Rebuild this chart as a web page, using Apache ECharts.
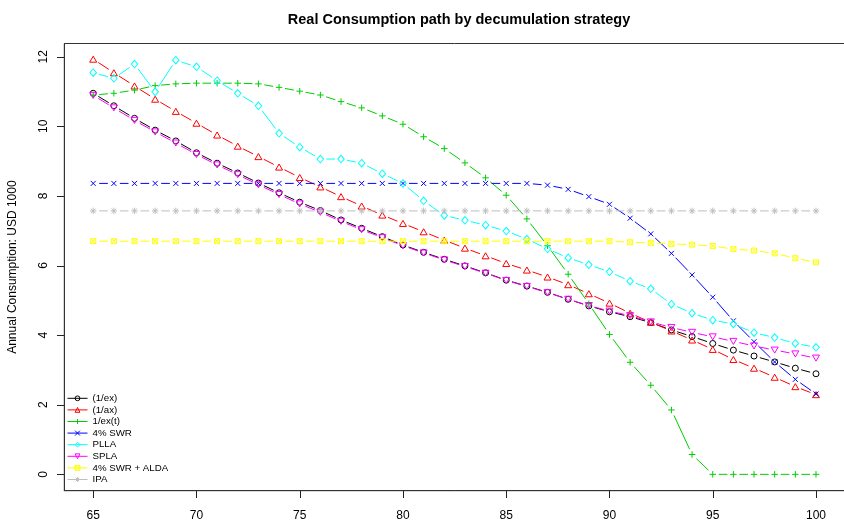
<!DOCTYPE html>
<html>
<head>
<meta charset="utf-8">
<script src="https://cdn.jsdelivr.net/npm/echarts@6/dist/echarts.min.js"></script>
<style>html,body{margin:0;padding:0;background:#fff}#c{width:844px;height:520px}</style>
</head>
<body>
<div id="c"></div>
<script>
// ---- data ----
const ages = [65,66,67,68,69,70,71,72,73,74,75,76,77,78,79,80,81,82,83,84,85,86,87,88,89,90,91,92,93,94,95,96,97,98,99,100];
const seriesNames = ['(1/ex)','(1/ax)','1/ex(t)','4% SWR','PLLA','SPLA','4% SWR + ALDA','IPA'];
const ex   = [10.95,10.59,10.23,9.89,9.58,9.24,8.94,8.66,8.37,8.09,7.82,7.58,7.31,7.07,6.83,6.59,6.38,6.18,5.99,5.79,5.58,5.41,5.23,5.03,4.84,4.67,4.53,4.36,4.15,3.96,3.76,3.57,3.40,3.23,3.05,2.89];
const ax   = [11.93,11.54,11.16,10.78,10.43,10.09,9.75,9.43,9.13,8.83,8.53,8.26,7.98,7.71,7.45,7.21,6.97,6.73,6.50,6.28,6.06,5.87,5.67,5.45,5.19,4.92,4.63,4.37,4.12,3.86,3.59,3.30,3.05,2.79,2.52,2.29];
const ext  = [10.90,10.95,11.04,11.17,11.22,11.24,11.24,11.24,11.22,11.12,11.01,10.90,10.71,10.53,10.30,10.06,9.70,9.36,8.95,8.52,8.02,7.34,6.57,5.75,4.90,4.02,3.22,2.56,1.85,0.57,0,0,0,0,0,0];
const swr  = [8.36,8.36,8.36,8.36,8.36,8.36,8.36,8.36,8.36,8.36,8.36,8.36,8.36,8.36,8.36,8.36,8.36,8.36,8.36,8.36,8.36,8.36,8.31,8.19,7.98,7.76,7.36,6.91,6.35,5.73,5.09,4.41,3.81,3.23,2.73,2.31];
const plla = [11.54,11.38,11.79,10.99,11.90,11.71,11.31,10.95,10.59,9.80,9.40,9.06,9.06,8.94,8.64,8.36,7.86,7.44,7.30,7.16,6.99,6.76,6.48,6.22,6.02,5.82,5.55,5.33,4.89,4.63,4.43,4.32,4.07,3.93,3.76,3.65];
const spla = [10.89,10.53,10.17,9.84,9.52,9.19,8.89,8.61,8.32,8.04,7.77,7.53,7.27,7.03,6.80,6.57,6.36,6.16,5.97,5.78,5.57,5.40,5.22,5.03,4.85,4.69,4.56,4.38,4.22,4.08,3.95,3.82,3.69,3.57,3.46,3.34];
const alda = [6.70,6.70,6.70,6.70,6.70,6.70,6.70,6.70,6.70,6.70,6.70,6.70,6.70,6.70,6.70,6.70,6.70,6.70,6.70,6.70,6.70,6.70,6.70,6.70,6.70,6.70,6.67,6.65,6.62,6.60,6.56,6.47,6.43,6.35,6.21,6.09];
const ipa  = [7.57,7.57,7.57,7.57,7.57,7.57,7.57,7.57,7.57,7.57,7.57,7.57,7.57,7.57,7.57,7.57,7.57,7.57,7.57,7.57,7.57,7.57,7.57,7.57,7.57,7.57,7.57,7.57,7.57,7.57,7.57,7.57,7.57,7.57,7.57,7.57];
const xTicks = [65,70,75,80,85,90,95,100];
const yTicks = [0,2,4,6,8,10,12];

// ---- styles ----
const valueSets = [ex, ax, ext, swr, plla, spla, alda, ipa];
const colors = ['#000000','#FF0000','#00CD00','#0000FF','#00FFFF','#FF00FF','#FFFF00','#BEBEBE'];
const symbols = [
  'circle',
  'path://M5 0L10 8.66L0 8.66Z',
  'path://M5 0L5 10M0 5L10 5',
  'path://M0 0L10 10M10 0L0 10',
  'diamond',
  'path://M0 0L10 0L5 8.66Z',
  'path://M0 0L10 0L10 10L0 10ZM0 0L10 10M10 0L0 10',
  'path://M5 0L5 10M0 5L10 5M1.46 1.46L8.54 8.54M8.54 1.46L1.46 8.54'
];
const symSizes = [6, 7, 6.5, 5, [6.5,7.5], 7, 5, 6.5];
const GAP = 6;
const TICK = 7;
const AXC = '#333';
const FONT = '"Liberation Sans", Arial, Helvetica, sans-serif';

// plot box (R-style 4% padding around the data range)
const BOX = { left: 64.3, top: 43.5, width: 780.6, height: 447.2 };
const XR = [63.6, 101.4], YR = [-0.47, 12.38];

const lineSeries = seriesNames.map((nm, i) => ({
  name: nm,
  type: 'line',
  data: ages.map((a, j) => [a, valueSets[i][j]]),
  symbol: symbols[i],
  symbolSize: symSizes[i],
  symbolKeepAspect: true,
  showSymbol: true,
  showAllSymbol: true,
  lineStyle: { color: colors[i], width: 0 },
  itemStyle: { color: 'none', borderColor: colors[i], borderWidth: 1 },
  emphasis: { disabled: true },
  silent: true,
  z: 3
}));

const segSeries = seriesNames.map((nm, i) => {
  const v = valueSets[i];
  const segs = [];
  for (let j = 0; j < ages.length - 1; j++) segs.push([ages[j], v[j], ages[j+1], v[j+1]]);
  return {
    name: nm,
    type: 'custom',
    data: segs,
    encode: { x: [0, 2], y: [1, 3] },
    silent: true,
    z: 2,
    renderItem: function (params, api) {
      const p0 = api.coord([api.value(0), api.value(1)]);
      const p1 = api.coord([api.value(2), api.value(3)]);
      const dx = p1[0] - p0[0], dy = p1[1] - p0[1];
      const L = Math.sqrt(dx*dx + dy*dy);
      if (L <= 2 * GAP) return null;
      const ux = dx / L, uy = dy / L;
      return {
        type: 'line',
        shape: { x1: p0[0] + ux*GAP, y1: p0[1] + uy*GAP, x2: p1[0] - ux*GAP, y2: p1[1] - uy*GAP },
        style: { stroke: colors[i], lineWidth: 1 }
      };
    }
  };
});

const chart = echarts.init(document.getElementById('c'), null, { renderer: 'canvas' });
chart.setOption({
  animation: false,
  backgroundColor: '#ffffff',
  title: {
    text: 'Real Consumption path by decumulation strategy',
    left: 454, top: 7, textAlign: 'center',
    textStyle: { fontFamily: FONT, fontSize: 14.5, fontWeight: 'bold', color: '#000' }
  },
  legend: {
    orient: 'vertical', left: 67, top: 392.5, padding: 0,
    itemWidth: 20, itemHeight: 6, itemGap: 0,
    selectedMode: false,
    textStyle: { fontFamily: FONT, fontSize: 9.7, color: '#000', lineHeight: 11.6 },
    lineStyle: { width: 1, opacity: 1 },
    itemStyle: { borderWidth: 1, opacity: 1 },
    data: seriesNames.map((nm, i) => ({ name: nm, lineStyle: { color: colors[i], width: 1, opacity: 1 } }))
  },
  grid: {
    left: BOX.left, top: BOX.top, width: BOX.width, height: BOX.height,
    show: true, borderColor: AXC, borderWidth: 1, containLabel: false, outerBoundsMode: 'none'
  },
  xAxis: {
    type: 'value', min: XR[0], max: XR[1],
    axisLine: { show: true, onZero: false, lineStyle: { color: AXC, width: 1 } },
    axisTick: { show: false },
    axisLabel: { show: true, margin: 19, fontFamily: FONT, fontSize: 12, color: '#000', customValues: xTicks },
    splitLine: { show: false }
  },
  yAxis: {
    type: 'value', min: YR[0], max: YR[1],
    name: 'Annual Consumption: USD 1000', nameLocation: 'middle', nameGap: 46, nameRotate: 90,
    nameTextStyle: { fontFamily: FONT, fontSize: 12, color: '#000' },
    axisLine: { show: true, onZero: false, lineStyle: { color: AXC, width: 1 } },
    axisTick: { show: false },
    axisLabel: { show: true, rotate: 90, margin: 15, fontFamily: FONT, fontSize: 12, color: '#000', customValues: yTicks },
    splitLine: { show: false }
  },
  series: lineSeries.concat(segSeries)
});

// R-style tick marks, positioned through the chart's own scales
const tickGraphics = [];
xTicks.forEach(t => {
  const p = chart.convertToPixel({ gridIndex: 0 }, [t, YR[0]]);
  const x = Math.round(p[0]) + 0.5, y = Math.round(p[1]);
  tickGraphics.push({ type: 'line', silent: true, z: 100,
    shape: { x1: x, y1: y, x2: x, y2: y + TICK }, style: { stroke: '#222', lineWidth: 1 } });
});
yTicks.forEach(t => {
  const p = chart.convertToPixel({ gridIndex: 0 }, [XR[0], t]);
  const x = Math.round(p[0]), y = Math.round(p[1]) + 0.5;
  tickGraphics.push({ type: 'line', silent: true, z: 100,
    shape: { x1: x, y1: y, x2: x - TICK, y2: y }, style: { stroke: '#222', lineWidth: 1 } });
});
chart.setOption({ graphic: { elements: tickGraphics } });
</script>
</body>
</html>
